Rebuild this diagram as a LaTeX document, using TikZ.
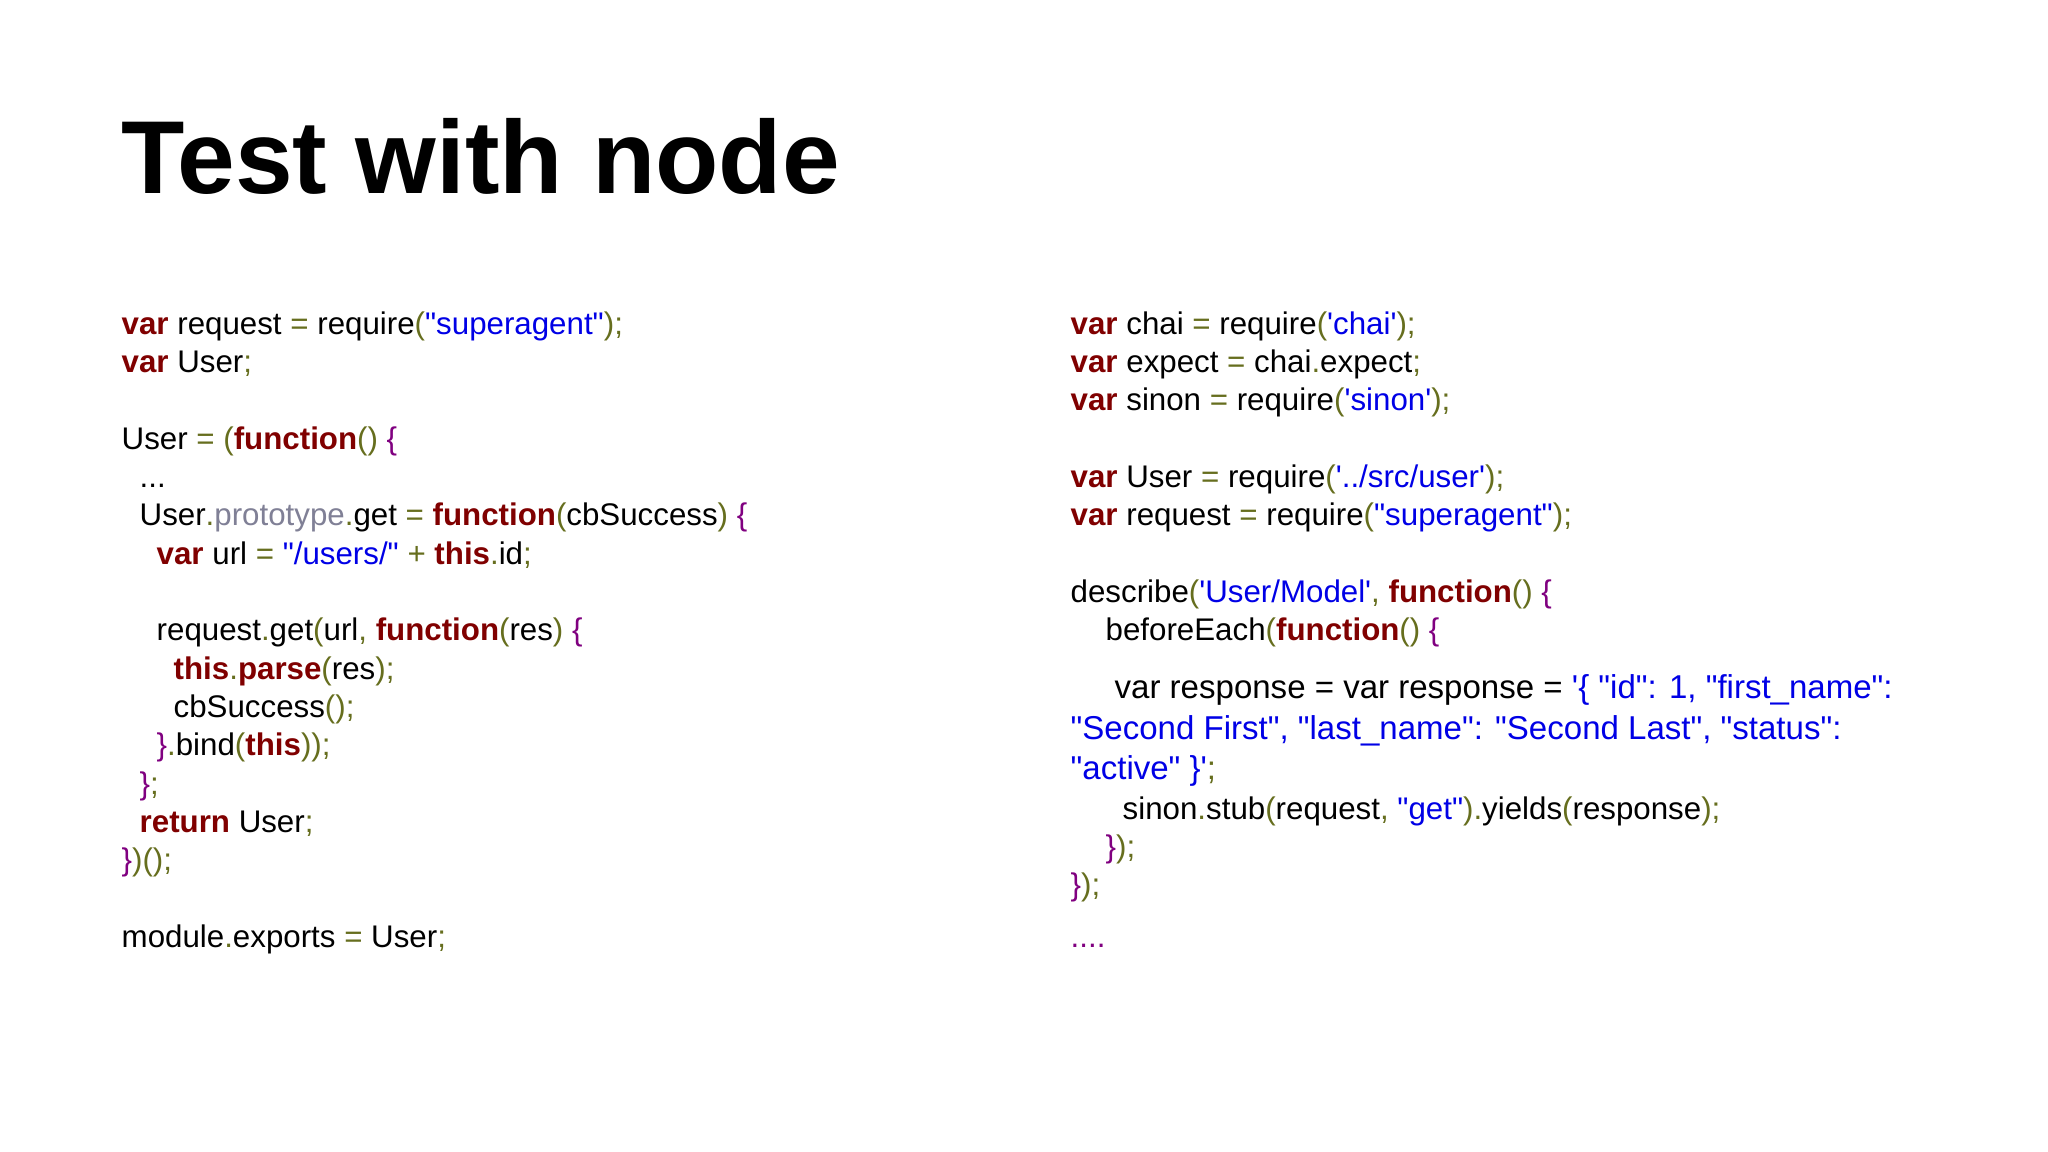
\documentclass[tikz,border=0pt]{standalone}
\usepackage{fontspec}
\usepackage{xcolor}
\usetikzlibrary{positioning}
\newfontfamily\codefont{Liberation Sans}
\definecolor{kwred}{RGB}{128,0,0}
\definecolor{strblue}{RGB}{0,0,230}
\definecolor{punc}{RGB}{102,110,30}
\definecolor{brc}{RGB}{128,0,128}
\definecolor{protog}{RGB}{128,128,150}
\newcommand{\kw}[1]{\textcolor{kwred}{\bfseries #1}}
\newcommand{\st}[1]{\textcolor{strblue}{#1}}
\newcommand{\pu}[1]{\textcolor{punc}{#1}}
\newcommand{\bc}[1]{\textcolor{brc}{#1}}
\newcommand{\ind}[1]{\hspace*{#1cm}}

\begin{document}
\begin{tikzpicture}
  % Styles
  \tikzset{code/.style={anchor=north west, inner sep=0pt, align=left,
      font={\codefont\fontsize{8.9}{10.9}\selectfont}},
    bigcode/.style={code, font={\codefont\fontsize{9.4}{11.5}\selectfont}}}
  \useasboundingbox (0,0) rectangle (20.48,-11.52);
  \fill[white] (0,0) rectangle (20.48,-11.52);

  % Title
  \node[anchor=base west, inner sep=0pt, font={\codefont\bfseries\fontsize{29.5}{35}\selectfont}]
    (title) at (1.21,-1.94) {Test with node};

  % Left column
  \node[code] (leftcode) at (1.21,-3.11) {%
    \kw{var} request \pu{=} require\pu{(}\st{"superagent"}\pu{);}\\
    \kw{var} User\pu{;}\\[10.9pt]
    User \pu{=} \pu{(}\kw{function}\pu{()} \bc{\{}\\
    \ind{0.18}...\\
    \ind{0.18}User\pu{.}\textcolor{protog}{prototype}\pu{.}get \pu{=} \kw{function}\pu{(}cbSuccess\pu{)} \bc{\{}\\
    \ind{0.35}\kw{var} url \pu{=} \st{"/users/"} \pu{+} \kw{this}\pu{.}id\pu{;}\\[10.9pt]
    \ind{0.35}request\pu{.}get\pu{(}url\pu{,} \kw{function}\pu{(}res\pu{)} \bc{\{}\\
    \ind{0.52}\kw{this}\pu{.}\kw{parse}\pu{(}res\pu{);}\\
    \ind{0.52}cbSuccess\pu{();}\\
    \ind{0.35}\bc{\}}\pu{.}bind\pu{(}\kw{this}\pu{));}\\
    \ind{0.18}\bc{\}}\pu{;}\\
    \ind{0.18}\kw{return} User\pu{;}\\
    \bc{\}}\pu{)();}\\[10.9pt]
    module\pu{.}exports \pu{=} User\pu{;}};

  % Right column
  \node[code] (rightcode) at (10.70,-3.11) {%
    \kw{var} chai \pu{=} require\pu{(}\st{'chai'}\pu{);}\\
    \kw{var} expect \pu{=} chai\pu{.}expect\pu{;}\\
    \kw{var} sinon \pu{=} require\pu{(}\st{'sinon'}\pu{);}\\[10.9pt]
    \kw{var} User \pu{=} require\pu{(}\st{'../src/user'}\pu{);}\\
    \kw{var} request \pu{=} require\pu{(}\st{"superagent"}\pu{);}\\[10.9pt]
    describe\pu{(}\st{'User/Model'}\pu{,} \kw{function}\pu{()} \bc{\{}\\
    \ind{0.35}beforeEach\pu{(}\kw{function}\pu{()} \bc{\{}};
  \node[bigcode] (respblock) at (10.70,-6.74) {%
    \ind{0.44}var response = var response = \st{'\{ "id": 1, "first\_name":}\\
    \st{"Second First", "last\_name": "Second Last", "status":}\\
    \st{"active" \}'}\pu{;}};
  \node[code] (rightend) at (10.70,-7.96) {%
    \ind{0.52}sinon\pu{.}stub\pu{(}request\pu{,} \st{"get"}\pu{).}yields\pu{(}response\pu{);}\\
    \ind{0.35}\bc{\}}\pu{);}\\
    \bc{\}}\pu{);}\\[3.7pt]
    \textcolor{brc}{....}};
\end{tikzpicture}
\end{document}
